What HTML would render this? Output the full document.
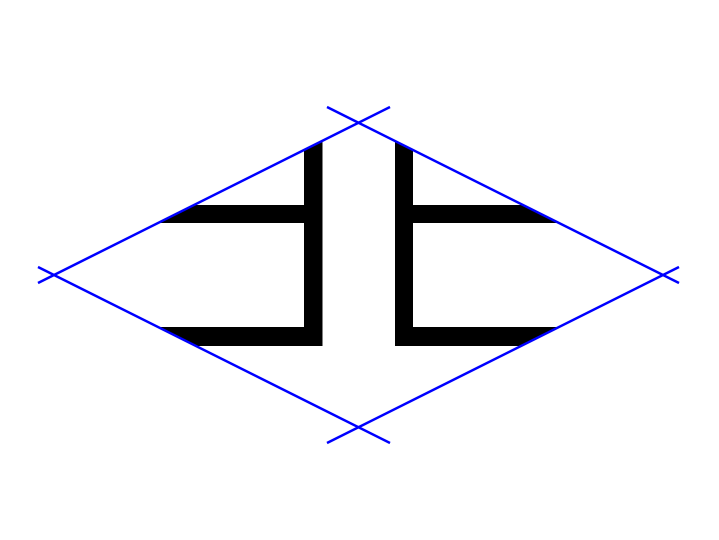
<!DOCTYPE html>
<html><head><style>html,body{margin:0;padding:0;background:#fff;}svg{display:block;}</style></head>
<body>
<svg width="719" height="540" viewBox="0 0 719 540" xmlns="http://www.w3.org/2000/svg">
<defs>
<clipPath id="d"><polygon points="54,275 358.5,122.7 663,275 358.5,427.3"/></clipPath>
</defs>
<g clip-path="url(#d)" fill="#000">
<rect x="304" y="100" width="18.5" height="246"/>
<rect x="100" y="205" width="222" height="18"/>
<rect x="100" y="327" width="222" height="19"/>
<rect x="395" y="100" width="18" height="246"/>
<rect x="395" y="205" width="240" height="18"/>
<rect x="395" y="327" width="240" height="19"/>
</g>
<g stroke="#0000ff" stroke-width="2.5" fill="none">
<line x1="38" y1="283" x2="390" y2="107"/>
<line x1="327" y1="107" x2="679" y2="283"/>
<line x1="38" y1="267" x2="390" y2="443"/>
<line x1="327" y1="443" x2="679" y2="267"/>
</g>
</svg>
</body></html>
